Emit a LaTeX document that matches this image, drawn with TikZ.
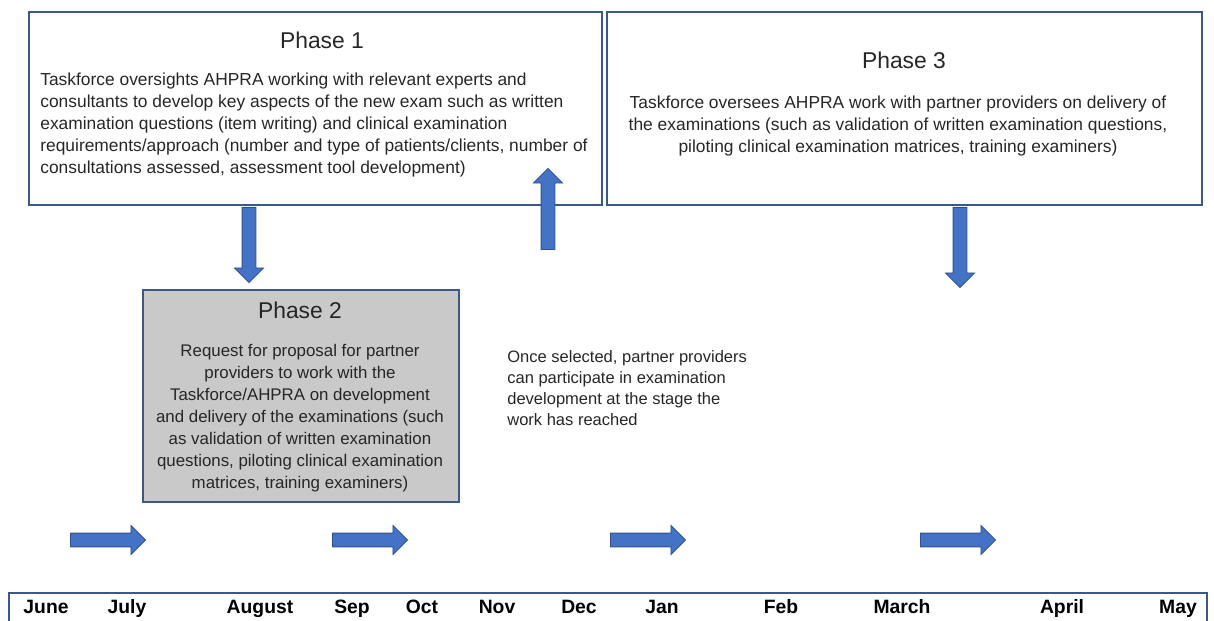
\documentclass[tikz,border=0pt]{standalone}
\usepackage{fontspec}
\setmainfont{Liberation Sans}
\usetikzlibrary{shapes.arrows}

\definecolor{boxblue}{RGB}{59,89,135}
\definecolor{arrowfill}{RGB}{68,114,196}
\definecolor{arrowline}{RGB}{47,82,143}
\definecolor{boxgray}{RGB}{201,201,201}

\tikzset{
    phasebox/.style={draw=boxblue, line width=1.1pt, inner sep=0pt, anchor=north west},
    phasetitle/.style={inner sep=0pt, text=black!85, font=\fontsize{13}{15}\selectfont},
    phasetext/.style={inner sep=0pt, text=black!85, font=\fontsize{9.9}{12.6}\selectfont},
    blockarrow/.style={single arrow, draw=arrowline, fill=arrowfill, line width=0.5pt,
        inner sep=0pt, inner ysep=0.13cm, minimum width=0.56cm,
        single arrow head extend=0.15cm, anchor=tail},
    month/.style={inner sep=0pt, anchor=base, font=\fontsize{11}{13}\selectfont\bfseries}
}

\begin{document}
\begin{tikzpicture}[x=0.02cm, y=-0.02cm]
\useasboundingbox (0,0) rectangle (1214,621);

% Phase boxes
\node[phasebox, minimum width=11.46cm, minimum height=3.86cm] (p1) at (28,11) {};
\node[phasebox, minimum width=11.9cm, minimum height=3.86cm] (p3) at (606,11) {};
\node[phasebox, fill=boxgray, minimum width=6.32cm, minimum height=4.24cm] (p2) at (142,289) {};

\node[phasetitle] (p1title) at (322,40) {Phase 1};
\node[phasetext, anchor=west, align=left] (p1text) at (40,125) {Taskforce oversights AHPRA working with relevant experts and\\
consultants to develop key aspects of the new exam such as written\\
examination questions (item writing) and clinical examination\\
requirements/approach (number and type of patients/clients, number of\\
consultations assessed, assessment tool development)};

\node[phasetitle] (p2title) at (300,310) {Phase 2};
\node[phasetext, align=center, font=\fontsize{9.6}{12.5}\selectfont] (p2text) at (300,418) {Request for proposal for partner\\
providers to work with the\\
Taskforce/AHPRA on development\\
and delivery of the examinations (such\\
as validation of written examination\\
questions, piloting clinical examination\\
matrices, training examiners)};

\node[phasetitle] (p3title) at (904,60) {Phase 3};
\node[phasetext, align=center] (p3text) at (898,126) {Taskforce oversees AHPRA work with partner providers on delivery of\\
the examinations (such as validation of written examination questions,\\
piloting clinical examination matrices, training examiners)};

\node[phasetext, anchor=west, align=left, font=\fontsize{9.4}{12.1}\selectfont] (note) at (507,388) {Once selected, partner providers\\
can participate in examination\\
development at the stage the\\
work has reached};

% Vertical arrows
\node[blockarrow, rotate=-90, minimum height=1.5cm] (down1) at (249,207) {};
\node[blockarrow, rotate=90, minimum height=1.62cm] (up1) at (548,250) {};
\node[blockarrow, rotate=-90, minimum height=1.6cm] (down3) at (960,207) {};

% Arrows along the time line
\foreach \x [count=\i] in {70,332,610,920}
    \node[blockarrow, minimum height=1.5cm] (step\i) at (\x,540) {};

% Time line
\draw[draw=boxblue, line width=1.1pt] (9,621) -- (9,593) -- (1207,593) -- (1207,621);
\foreach \m/\x in {June/46,July/127,August/260,Sep/352,Oct/422,Nov/497,Dec/579,Jan/662,Feb/781,March/902,April/1062,May/1178}
    \node[month] (m-\m) at (\x,613) {\m};

\end{tikzpicture}
\end{document}
